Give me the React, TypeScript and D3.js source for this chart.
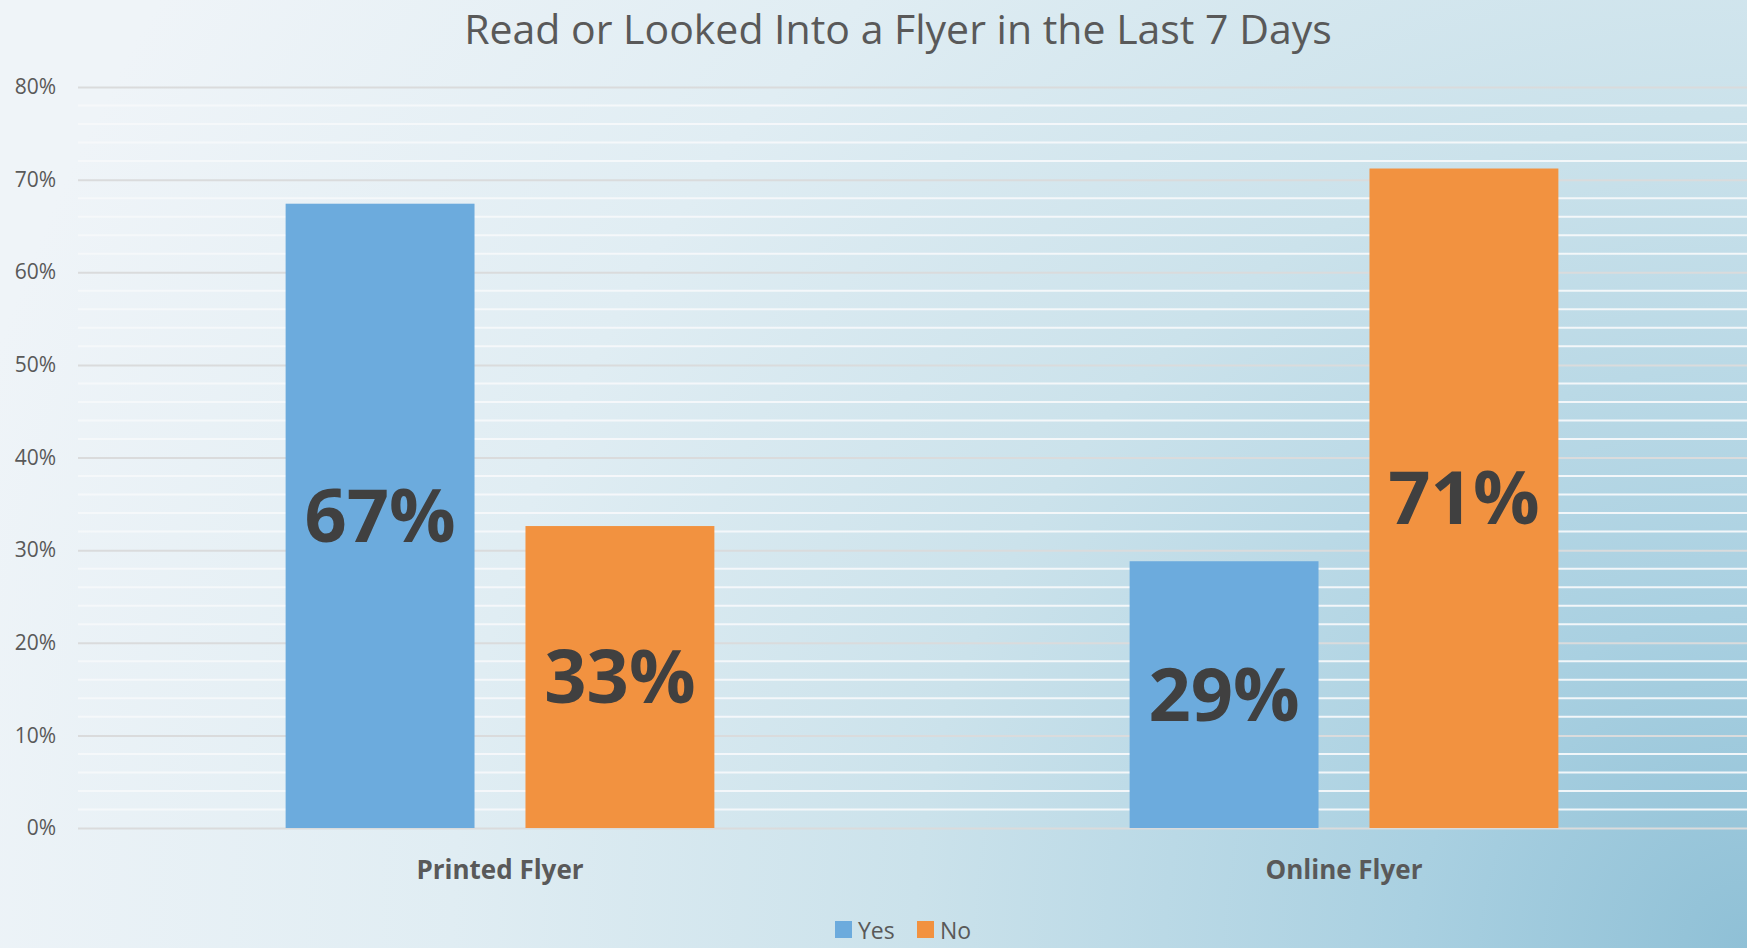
import { useEffect, useRef } from 'react';
import * as d3 from 'd3';

const categories = ["Printed Flyer", "Online Flyer"];
const seriesNames = ["Yes", "No"];
const yesValues = [0.674, 0.288];
const noValues = [0.326, 0.712];
const yTicks = [0, 0.1, 0.2, 0.3, 0.4, 0.5, 0.6, 0.7, 0.8];
const title = "Read or Looked Into a Flyer in the Last 7 Days";

const colors: Record<string, string> = { Yes: "#6cabdd", No: "#f29240" };
const FONT = "'Open Sans', 'Noto Sans', sans-serif";

interface BarDatum {
  category: string;
  series: string;
  value: number;
}

function FlyerChart({ width = 1747, height = 948 }: { width?: number; height?: number }) {
  const ref = useRef<SVGSVGElement | null>(null);

  useEffect(() => {
    if (!ref.current) return;
    const svg = d3.select(ref.current);
    svg.selectAll("*").remove();

    const margin = { top: 87, bottom: 120, left: 78, right: -19 };

    // background gradient, dark in the bottom right corner
    const defs = svg.append("defs");
    const grad = defs.append("radialGradient")
      .attr("id", "bg")
      .attr("gradientUnits", "userSpaceOnUse")
      .attr("cx", width)
      .attr("cy", height)
      .attr("r", 1850);
    [
      ["0", "#8fc0d6"],
      ["0.18", "#a9d0e1"],
      ["0.45", "#cbe2eb"],
      ["0.7", "#e0edf3"],
      ["1", "#eff4f8"],
    ].forEach(([o, c]) => grad.append("stop").attr("offset", o).attr("stop-color", c));

    svg.append("rect")
      .attr("width", width)
      .attr("height", height)
      .attr("fill", "url(#bg)");

    const x0 = d3.scaleBand()
      .domain(categories)
      .range([margin.left, width - margin.right]);

    const groupWidth = x0.bandwidth() * 0.508;
    const x1 = d3.scaleBand()
      .domain(seriesNames)
      .range([0, groupWidth])
      .paddingInner(0.2125);

    const y = d3.scaleLinear()
      .domain([0, 0.8])
      .range([height - margin.bottom, margin.top]);

    // minor gridlines every 2%
    svg.append("g")
      .selectAll("line")
      .data(y.ticks(40).filter(t => !yTicks.some(m => Math.abs(m - t) < 1e-6)))
      .enter()
      .append("line")
      .attr("x1", margin.left)
      .attr("x2", width)
      .attr("y1", d => y(d))
      .attr("y2", d => y(d))
      .attr("stroke", "#f6f8fa")
      .attr("stroke-opacity", 0.95)
      .attr("stroke-width", 2);

    // major gridlines and y labels
    const yAxis = svg.append("g")
      .attr("transform", `translate(${margin.left},0)`)
      .call(d3.axisLeft(y)
        .tickValues(yTicks)
        .tickSize(-(width - margin.left))
        .tickPadding(22)
        .tickFormat(d => `${Math.round((d as number) * 100)}%`));
    yAxis.select(".domain").remove();
    yAxis.selectAll(".tick line")
      .attr("stroke", "#dadbdc")
      .attr("stroke-width", 2);
    yAxis.selectAll(".tick text")
      .attr("font-family", FONT)
      .attr("font-size", 21)
      .attr("fill", "#595959");

    const data: BarDatum[] = [];
    categories.forEach((c, i) => {
      data.push({ category: c, series: "Yes", value: yesValues[i] });
      data.push({ category: c, series: "No", value: noValues[i] });
    });

    const barX = (d: BarDatum) =>
      x0(d.category)! + (x0.bandwidth() - groupWidth) / 2 + x1(d.series)!;

    svg.append("g")
      .selectAll("rect")
      .data(data)
      .enter()
      .append("rect")
      .attr("x", barX)
      .attr("y", d => y(d.value))
      .attr("width", x1.bandwidth())
      .attr("height", d => y(0) - y(d.value))
      .attr("fill", d => colors[d.series]);

    svg.append("g")
      .selectAll("text")
      .data(data)
      .enter()
      .append("text")
      .attr("x", d => barX(d) + x1.bandwidth() / 2)
      .attr("y", d => (y(d.value) + y(0)) / 2)
      .attr("dy", "0.35em")
      .attr("text-anchor", "middle")
      .attr("font-family", FONT)
      .attr("font-weight", "bold")
      .attr("font-size", 74)
      .attr("fill", "#404040")
      .text(d => `${Math.round(d.value * 100)}%`);

    // category labels
    svg.append("g")
      .selectAll("text")
      .data(categories)
      .enter()
      .append("text")
      .attr("x", d => x0(d)! + x0.bandwidth() / 2)
      .attr("y", 879)
      .attr("text-anchor", "middle")
      .attr("font-family", FONT)
      .attr("font-weight", "bold")
      .attr("font-size", 26)
      .attr("fill", "#595959")
      .text(d => d);

    svg.append("text")
      .attr("x", 898)
      .attr("y", 44)
      .attr("text-anchor", "middle")
      .attr("font-family", FONT)
      .attr("font-size", 41)
      .attr("fill", "#595959")
      .text(title);

    // legend
    const legend = svg.append("g").attr("transform", "translate(835,921)");
    const legendX = [0, 82];
    seriesNames.forEach((s, i) => {
      const g = legend.append("g").attr("transform", `translate(${legendX[i]},0)`);
      g.append("rect")
        .attr("width", 17)
        .attr("height", 17)
        .attr("fill", colors[s]);
      g.append("text")
        .attr("x", 23)
        .attr("y", 18)
        .attr("font-family", FONT)
        .attr("font-size", 23)
        .attr("fill", "#595959")
        .text(s);
    });
  }, [width, height]);

  return (
    <svg
      ref={ref}
      width={width}
      height={height}
      style={{ position: 'absolute', left: 0, top: 0, display: 'block' }}
    />
  );
}

export default function App() {
  return <FlyerChart />;
}
